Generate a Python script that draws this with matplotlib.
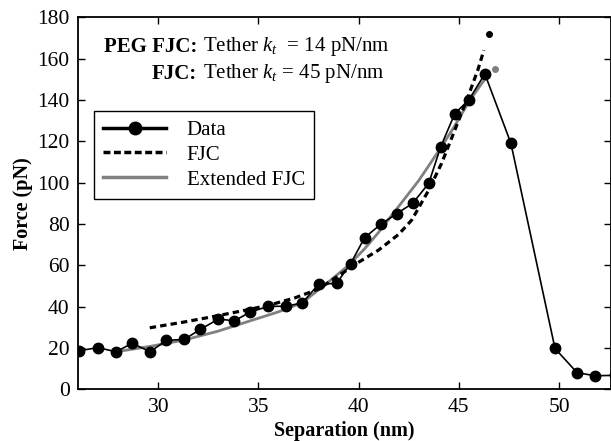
import matplotlib
matplotlib.use("Agg")
import matplotlib.pyplot as plt
from matplotlib.lines import Line2D

plt.rcParams['font.family'] = ['Liberation Serif', 'DejaVu Serif']
plt.rcParams['mathtext.fontset'] = 'custom'
plt.rcParams['mathtext.rm'] = 'Liberation Serif'
plt.rcParams['mathtext.it'] = 'Liberation Serif:italic'
plt.rcParams['mathtext.bf'] = 'Liberation Serif:bold'

# measured force curve
sep = [26.06, 26.99, 27.9, 28.7, 29.6, 30.4, 31.3, 32.1, 33.0, 33.8, 34.6, 35.5,
       36.4, 37.2, 38.0, 38.9, 39.6, 40.3, 41.1, 41.9, 42.7, 43.5, 44.1, 44.8,
       45.5, 46.3, 47.6, 49.8, 50.9, 51.8, 52.8]
force = [18.7, 20.2, 18.2, 22.3, 18.2, 23.7, 24.2, 29.0, 34.0, 33.2, 37.4, 40.2,
         40.2, 41.9, 50.8, 51.3, 60.8, 73.4, 79.8, 85.0, 90.0, 99.7, 117.4, 133.4,
         140.0, 152.6, 119.0, 19.8, 8.1, 6.6, 6.8]

# FJC fit
fjc_x = [29.58, 31.3, 32.9, 34.3, 35.56, 36.8, 38.0, 39.0, 40.0, 41.0, 42.0,
         42.65, 43.5, 44.14, 44.8, 45.46, 45.95, 46.25]
fjc_y = [29.8, 32.6, 35.5, 38.2, 40.8, 44.2, 48.5, 55.0, 61.5, 67.4, 75.0,
         81.9, 96.4, 109.3, 125.4, 141.6, 154.5, 164.0]
fjc_end = (46.5, 171.9)

# extended FJC fit (grey curve)
efjc_x = [27.9, 29.6, 31.3, 33.0, 34.7, 36.0, 37.2, 38.5, 39.5, 40.3, 41.0,
          41.8, 43.0, 44.14, 44.8, 45.46, 46.0, 46.45]
efjc_y = [18.2, 20.8, 23.9, 28.2, 33.5, 37.5, 42.0, 52.0, 60.0, 68.0, 76.0,
          86.0, 101.0, 117.4, 127.5, 138.4, 146.0, 152.0]
efjc_end = (46.8, 155.0)

fig = plt.figure(figsize=(6.11, 4.41), dpi=100)
ax = fig.add_axes([0.1277, 0.117, 0.8725, 0.844])

grey = '#808080'
ax.plot(efjc_x, efjc_y, color=grey, lw=2.0, zorder=2)
ax.plot([efjc_end[0]], [efjc_end[1]], 'o', color=grey, ms=4, zorder=2)
ax.plot(fjc_x, fjc_y, color='black', lw=2.3, dashes=(2, 1.3), zorder=3)
ax.plot([fjc_end[0]], [fjc_end[1]], 'o', color='black', ms=4, zorder=3)
ax.plot(sep, force, '-o', color='black', lw=1.2, ms=7.5, zorder=4)

ax.set_xlim(26, 52.6)
ax.set_ylim(0, 180)
ax.set_xticks([30, 35, 40, 45, 50])
ax.set_yticks(range(0, 181, 20))
ax.tick_params(direction='in', top=True, right=True, labelsize=15.5,
               length=5, width=1, pad=6)
for s in ax.spines.values():
    s.set_linewidth(1.3)

ax.set_xlabel('Separation (nm)', fontsize=14.5, fontweight='bold', labelpad=3)
ax.set_ylabel('Force (pN)', fontsize=14.5, fontweight='bold', labelpad=3)

# annotation: bold prefix right-aligned, rest left-aligned
xb = (197 - 78) / 533
xn = (203 - 78) / 533
ax.text(xb, 0.921, 'PEG FJC:', transform=ax.transAxes, ha='right', va='center',
        fontsize=15, fontweight='bold')
ax.text(xn, 0.921, r'Tether $k_t$  = 14 pN/nm', transform=ax.transAxes,
        ha='left', va='center', fontsize=15)
ax.text(xb, 0.848, 'FJC:', transform=ax.transAxes, ha='right', va='center',
        fontsize=15, fontweight='bold')
ax.text(xn, 0.848, r'Tether $k_t$ = 45 pN/nm', transform=ax.transAxes,
        ha='left', va='center', fontsize=15)

handles = [
    Line2D([], [], color='black', lw=2.5, marker='o', ms=9),
    Line2D([], [], color='black', lw=2.5, dashes=(2, 1)),
    Line2D([], [], color=grey, lw=2.5),
]
leg = ax.legend(handles, ['Data', 'FJC', 'Extended FJC'], loc='upper left',
                bbox_to_anchor=(0.03, 0.748), borderaxespad=0, fontsize=15,
                handlelength=3.0, fancybox=False, framealpha=1, edgecolor='black',
                borderpad=0.45, labelspacing=0.25, handletextpad=1.0)
leg.get_frame().set_linewidth(1.0)

fig.savefig('out.png', dpi=100)
